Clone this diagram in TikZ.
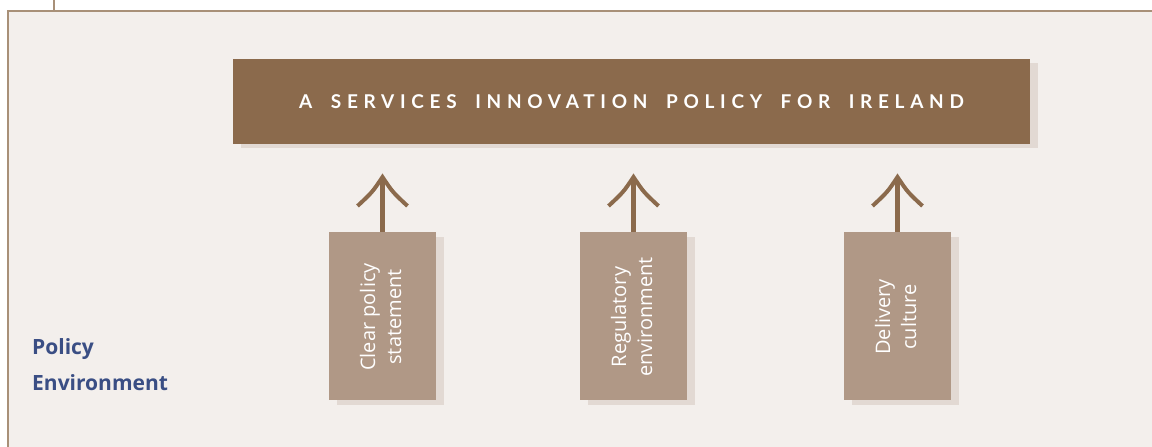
\documentclass[tikz,border=0pt]{standalone}
\usepackage{fontspec}
\setmainfont{Open Sans}
\newfontfamily\titlefont[LetterSpace=30,WordSpace=1.8]{Lato Bold}
\newfontfamily\labelfont{Open Sans Bold}
\definecolor{bgc}{HTML}{F3EFEC}
\definecolor{framec}{HTML}{A89078}
\definecolor{darkbrown}{HTML}{8B6A4C}
\definecolor{lightbrown}{HTML}{B09886}
\definecolor{shadowc}{HTML}{E2D9D3}
\definecolor{bluec}{HTML}{3A4E84}
\tikzset{
  titlebox/.style={fill=darkbrown, minimum width=797pt, minimum height=85pt, inner sep=0pt,
    text=white, font=\titlefont\fontsize{19pt}{22pt}\selectfont},
  factorbox/.style={fill=lightbrown, minimum width=107pt, minimum height=168pt, inner sep=0pt},
  factortext/.style={rotate=90, text=white, align=center, inner sep=0pt,
    font=\fontsize{20pt}{26pt}\selectfont},
  shade/.style={fill=shadowc, draw=none},
  shaft/.style={draw=darkbrown, line width=4.5pt},
  wing/.style={draw=darkbrown, line width=4pt, line join=miter},
  frame/.style={draw=framec, line width=2pt},
  sidelabel/.style={text=bluec, font=\labelfont\fontsize{21pt}{36pt}\selectfont, align=left, anchor=north west, inner sep=0pt}
}
\begin{document}
\begin{tikzpicture}[x=1pt,y=-1pt]
\useasboundingbox (0,0) rectangle (1152,447);
\fill[white] (0,0) rectangle (1152,447);
\fill[bgc] (8,11) rectangle (1152,447);
\draw[frame] (1152,11) -- (8,11) -- (8,447);
\draw[frame] (54,0) -- (54,11);
% title
\fill[shade] (241,63) rectangle (1038,148);
\node[titlebox] (title) at (631.5,101.5) {A SERVICES INNOVATION POLICY FOR IRELAND};
% factor boxes
\foreach \n/\cx/\txt in {b1/382.5/{Clear policy\\statement}, b2/633.5/{Regulatory\\environment}, b3/897.5/{Delivery\\culture}}{
  \fill[shade] (\cx-45.5,237) rectangle (\cx+61.5,405);
  \node[factorbox] (\n) at (\cx,316) {};
  \node[factortext] (\n t) at (\cx-2,317) {\txt};
  \coordinate (\n tip) at (\cx,178);
  \draw[shaft] (\n.north) -- (\n tip);
  \draw[wing] ([shift={(-25,28)}]\n tip) .. controls ([shift={(-10,14)}]\n tip) .. ([shift={(0,-1)}]\n tip)
     .. controls ([shift={(10,14)}]\n tip) .. ([shift={(25,28)}]\n tip);
}
\node[sidelabel] (lab) at (32,338) {Policy\\Environment};
\end{tikzpicture}
\end{document}
